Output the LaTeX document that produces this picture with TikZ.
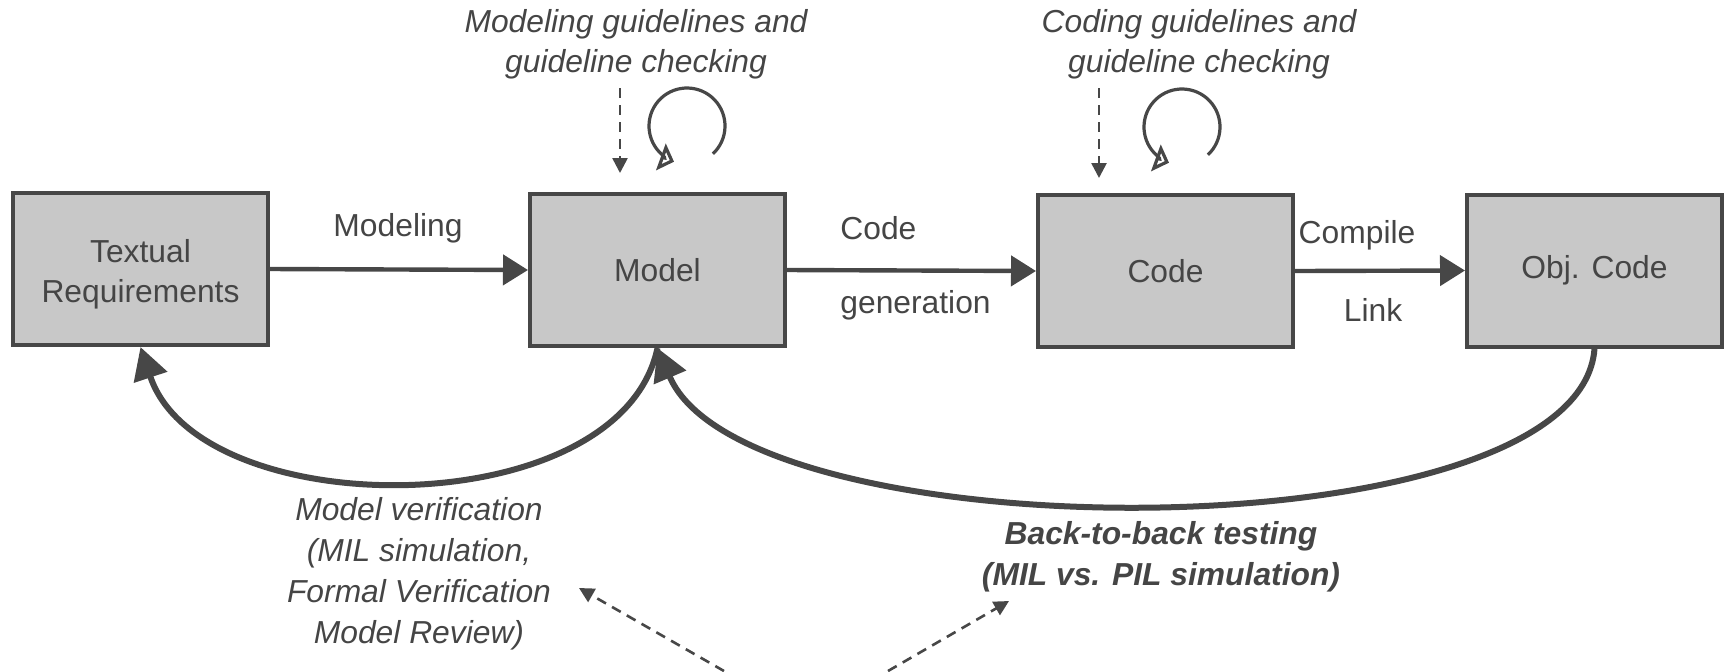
\documentclass[tikz,border=0pt]{standalone}
\usepackage{fontspec}
\setmainfont{Liberation Sans}
\usetikzlibrary{arrows.meta}
\definecolor{ink}{HTML}{454545}
\definecolor{boxfill}{HTML}{C8C8C8}
\definecolor{edge}{HTML}{474747}
\begin{document}
\begin{tikzpicture}[x=0.5pt,y=-0.5pt,
  every node/.style={font=\fontsize{15.9}{20}\selectfont, text=ink, inner sep=0pt},
  box/.style={draw=edge, fill=boxfill, line width=2pt, minimum width=127.5pt, minimum height=76pt, align=center},
  flow/.style={draw=edge, line width=2.2pt, -{Triangle[length=12.5pt,width=15pt]}},
  back/.style={draw=edge, line width=3pt, -{Triangle[length=16pt,width=17pt]}},
  hint/.style={draw=edge, line width=1.3pt, dash pattern=on 5pt off 3.5pt, -{Triangle[length=7.5pt,width=7.5pt]}},
  selfloop/.style={draw=edge, line width=1.6pt, -{Triangle[open,length=7pt,width=14pt]}},
  lbl/.style={font=\fontsize{15.9}{20}\selectfont\itshape, align=center},
  lblb/.style={font=\fontsize{15.9}{20.5}\selectfont\bfseries\itshape, align=center}
]
\useasboundingbox (0,0) rectangle (1729,671);

% process stages
\node[box] (req)   at (140.5,269)  {\rule{0pt}{16.4pt}Textual\\Requirements};
\node[box] (model) at (657.5,270)  {Model};
\node[box] (code)  at (1165.5,271) {Code};
\node[box] (obj)   at (1594.5,270.5) {Obj. Code};

% forward transformations
\draw[flow] (req.east) -- (model.west);
\draw[flow] (model.east) -- (code.west);
\draw[flow] (code.east) -- (obj.west);
\node (tModeling) at (398,228) {Modeling};
\node[anchor=west] (tCode) at (840,228) {Code};
\node[anchor=west] (tGen)  at (840,305) {generation};
\node (tCompile) at (1357,235) {Compile};
\node (tLink)    at (1373,310) {Link};

% guideline annotations
\node[lbl] (mguide) at (636,44) {Modeling guidelines and\\guideline checking};
\node[lbl] (cguide) at (1199,44) {Coding guidelines and\\guideline checking};
\coordinate (mguideS) at (620,88);
\coordinate (mguideT) at (620,173);
\coordinate (cguideS) at (1099,88);
\coordinate (cguideT) at (1099,178);
\draw[hint] (mguideS) -- (mguideT);
\draw[hint] (cguideS) -- (cguideT);

% self checking loops
\coordinate (mloop) at (687,126);
\coordinate (cloop) at (1182,127);
\draw[selfloop] (mloop) ++(47:38) arc[start angle=47, end angle=-250, radius=38];
\draw[selfloop] (cloop) ++(47:38) arc[start angle=47, end angle=-250, radius=38];

% verification feedback
\draw[back] (model.south) .. controls (620,526) and (200,526) .. (req.south);
\draw[back] (obj.south) .. controls (1580,556) and (746,556) .. (model.south);

\node[lbl, font=\fontsize{15.9}{20.5}\selectfont\itshape] (verif) at (419,574)
  {Model verification\\(MIL simulation,\\Formal Verification\\Model Review)};
\node[lblb] (b2b) at (1161,557) {Back-to-back testing\\(MIL vs. PIL simulation)};

\coordinate (srcL) at (724,671);
\coordinate (srcR) at (888,671);
\coordinate (verifT) at (579,588);
\coordinate (b2bT) at (1009,601);
\draw[hint] (srcL) -- (verifT);
\draw[hint] (srcR) -- (b2bT);
\end{tikzpicture}
\end{document}
